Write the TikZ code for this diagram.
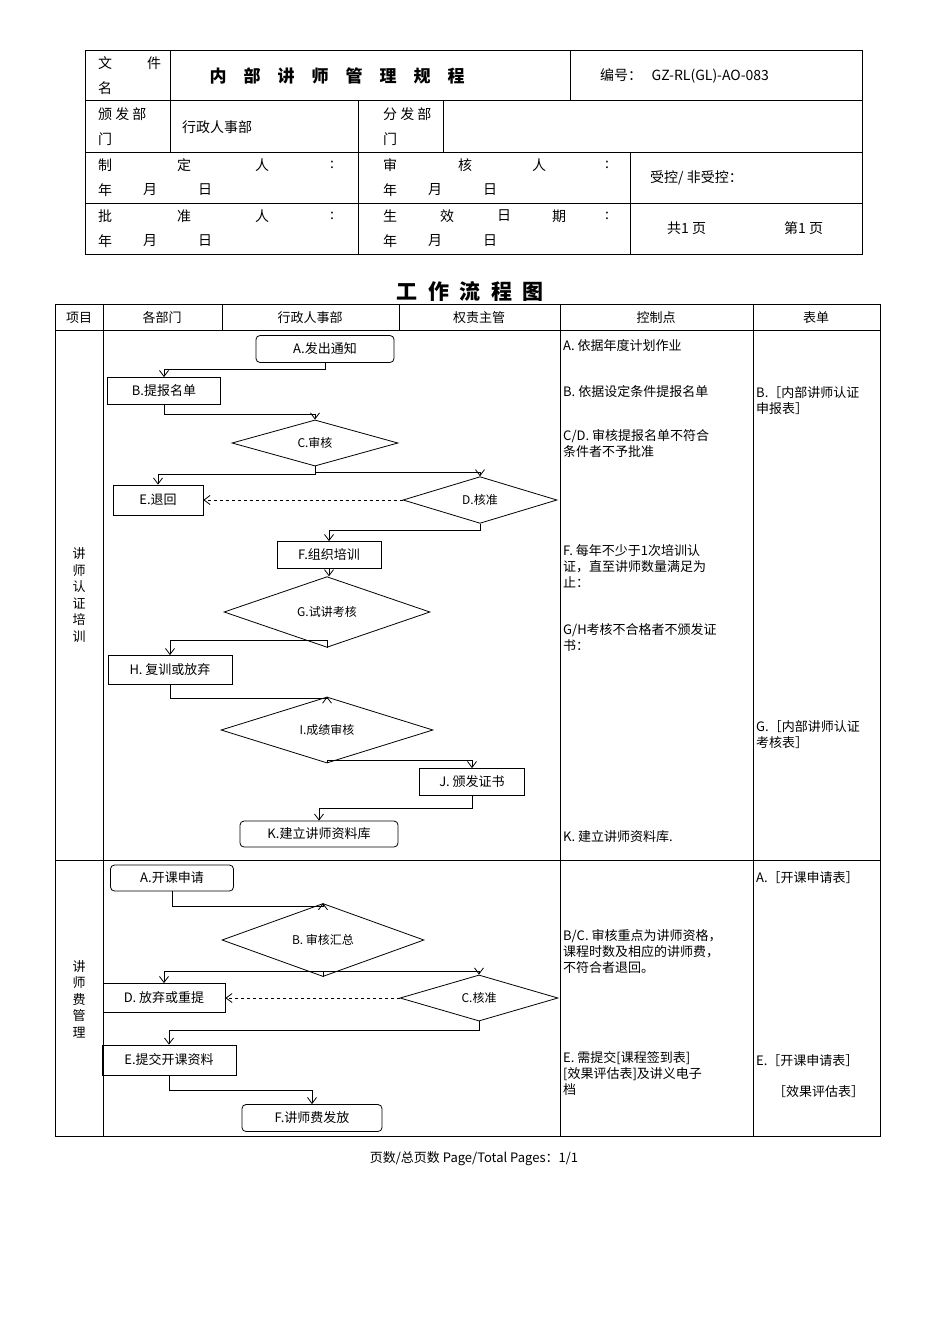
\documentclass[tikz,border=0pt]{standalone}
\usepackage{fontspec}
\setmainfont{Noto Sans CJK SC}
\usetikzlibrary{shapes.geometric,arrows.meta}
\begin{document}
\begin{tikzpicture}[x=1pt,y=-1pt,
  t/.style={inner sep=0pt,font=\fontsize{13}{16}\selectfont},
  tl/.style={t,anchor=north west,align=left},
  h/.style={inner sep=0pt,anchor=west,font=\fontsize{14}{16}\selectfont},
  box/.style={draw,thick,minimum height=27pt,inner sep=1pt,font=\fontsize{13}{15}\selectfont},
  rbox/.style={box,rounded corners=4pt},
  dia/.style={draw,thick,diamond,minimum height=36pt,inner sep=0pt,font=\fontsize{12}{14}\selectfont},
  ar/.style={thick,-{Straight Barb[length=6pt,width=9pt]}},
  tab/.style={line width=0.9pt}]
\useasboundingbox (0,0) rectangle (950,1344);
% header table
\draw[tab] (85,50) rectangle (862,254);
\foreach \y in {100,152,203} \draw[tab] (85,\y)--(862,\y);
\draw[tab] (170,50)--(170,152) (570,50)--(570,100) (358,100)--(358,254) (443,100)--(443,152) (630,152)--(630,254);
\node[h] at (98,63) {文}; \node[h] at (147,63) {件}; \node[h] at (98,88) {名};
\node[inner sep=0pt,font=\fontsize{17}{19}\selectfont\bfseries] at (337,76) {内\quad 部\quad 讲\quad 师\quad 管\quad 理\quad 规\quad 程};
\node[h] at (600,76) {编号：\ \ \ GZ-RL(GL)-AO-083};
\node[h] at (98,114) {颁\ 发\ 部}; \node[h] at (98,139) {门};
\node[h] at (182,127) {行政人事部};
\node[h] at (383,114) {分\ 发\ 部}; \node[h] at (383,139) {门};
\node[h] at (98,165) {制}; \node[h] at (177,165) {定}; \node[h] at (255,165) {人}; \node[h] at (330,165) {:};
\node[h] at (383,165) {审}; \node[h] at (458,165) {核}; \node[h] at (532,165) {人}; \node[h] at (605,165) {:};
\node[h] at (98,216) {批}; \node[h] at (177,216) {准}; \node[h] at (255,216) {人}; \node[h] at (330,216) {:};
\node[h] at (383,216) {生}; \node[h] at (440,216) {效}; \node[h] at (497,216) {日}; \node[h] at (552,216) {期}; \node[h] at (605,216) {:};
\foreach \x in {98,383} \foreach \y in {190,241} {
  \node[h] at (\x,\y) {年}; \node[h] at (\x+45,\y) {月}; \node[h] at (\x+100,\y) {日};}
\node[h] at (650,178) {受控/ 非受控：};
\node[h] at (667,228) {共1 页}; \node[h] at (784,228) {第1 页};
% title
\node[inner sep=0pt,font=\fontsize{21}{23}\selectfont\bfseries] at (470,291) {工\enspace 作\enspace 流\enspace 程\enspace 图};
% main table
\draw[tab] (55,304) rectangle (880,1136);
\draw[tab] (55,330)--(880,330) (55,860)--(880,860);
\draw[tab] (103,304)--(103,1136) (560,304)--(560,1136) (753,304)--(753,1136) (222,304)--(222,330) (399,304)--(399,330);
\node[t] at (79,318) {项目}; \node[t] at (162,318) {各部门}; \node[t] at (310,318) {行政人事部};
\node[t] at (479,318) {权责主管}; \node[t] at (656,318) {控制点}; \node[t] at (816,318) {表单};
\node[t,align=center,font=\fontsize{13}{16.5}\selectfont] at (79,595) {讲\\师\\认\\证\\培\\训};
\node[t,align=center,font=\fontsize{13}{16.5}\selectfont] at (79,999) {讲\\师\\费\\管\\理};
% section 1
\node[rbox,minimum width=138pt] (A) at (325,349) {A.发出通知};
\node[box,minimum width=113pt] (B) at (164,391) {B.提报名单};
\node[dia,minimum width=166pt] (C) at (315,443) {C.审核};
\node[box,minimum width=90pt,minimum height=30pt] (E) at (158,500) {E.退回};
\node[dia,minimum width=154pt] (D) at (480,500) {D.核准};
\node[box,minimum width=104pt] (F) at (329,555) {F.组织培训};
\node[dia,minimum width=206pt] (G) at (327,612) {G.试讲考核};
\node[box,minimum width=124pt,minimum height=29pt] (H) at (170,670) {H. 复训或放弃};
\node[dia,minimum width=212pt] (I) at (327,730) {I.成绩审核};
\node[box,minimum width=105pt] (J) at (472,782) {J. 颁发证书};
\node[rbox,minimum width=158pt,minimum height=26pt] (K) at (319,834) {K.建立讲师资料库};
\draw[ar] (A.south) |- (164,369) -- (B.north);
\draw[ar] (B.south) |- (315,414) -- (C.north);
\draw[ar] (C.south) |- (158,474) -- (E.north);
\draw[ar] (C.south) |- (480,472) -- (D.north);
\draw[ar,dashed] (D.west) -- (E.east);
\draw[ar] (D.south) |- (329,530) -- (F.north);
\draw[ar] (F.south) -- (F.south |- G.north);
\draw[ar] (G.south) |- (170,640) -- (H.north);
\draw[ar] (H.south) |- (327,698) -- (I.north);
\draw[ar] (I.south) |- (472,760) -- (J.north);
\draw[ar] (J.south) |- (319,808) -- (K.north);
% section 2
\node[rbox,minimum width=123pt,minimum height=26pt] (A2) at (172,878) {A.开课申请};
\node[dia,minimum width=202pt] (B2) at (323,940) {B. 审核汇总};
\node[box,minimum width=122pt,minimum height=29pt] (D2) at (164,998) {D. 放弃或重提};
\node[dia,minimum width=158pt,minimum height=32pt] (C2) at (479,998) {C.核准};
\node[box,minimum width=134pt,minimum height=30pt] (E2) at (169,1060) {E.提交开课资料};
\node[rbox,minimum width=140pt] (F2) at (312,1118) {F.讲师费发放};
\draw[ar] (A2.south) |- (323,906) -- (B2.north);
\draw[ar] (B2.south) |- (164,971) -- (D2.north);
\draw[ar] (B2.south) |- (479,971) -- (C2.north);
\draw[ar,dashed] (C2.west) -- (D2.east);
\draw[ar] (C2.south) |- (169,1030) -- (E2.north);
\draw[ar] (E2.south) |- (312,1090) -- (F2.north);
% control points
\node[tl] at (563,339) {A. 依据年度计划作业};
\node[tl] at (563,385) {B. 依据设定条件提报名单};
\node[tl] at (563,429) {C/D. 审核提报名单不符合\\条件者不予批准};
\node[tl] at (563,544) {F. 每年不少于1次培训认\\证，直至讲师数量满足为\\止：};
\node[tl] at (563,623) {G/H考核不合格者不颁发证\\书：};
\node[tl] at (563,830) {K. 建立讲师资料库.};
\node[tl] at (563,929) {B/C. 审核重点为讲师资格，\\课程时数及相应的讲师费，\\不符合者退回。};
\node[tl] at (563,1051) {E. 需提交{[}课程签到表{]}\\{[}效果评估表{]}及讲义电子\\档};
% forms
\node[tl] at (756,386) {B.［内部讲师认证\\申报表］};
\node[tl] at (756,720) {G.［内部讲师认证\\考核表］};
\node[tl] at (756,871) {A.［开课申请表］};
\node[tl] at (756,1054) {E.［开课申请表］};
\node[tl] at (773,1085) {［效果评估表］};
% footer
\node[t] at (474,1159) {页数/总页数 Page/Total Pages：1/1};
\end{tikzpicture}
\end{document}
